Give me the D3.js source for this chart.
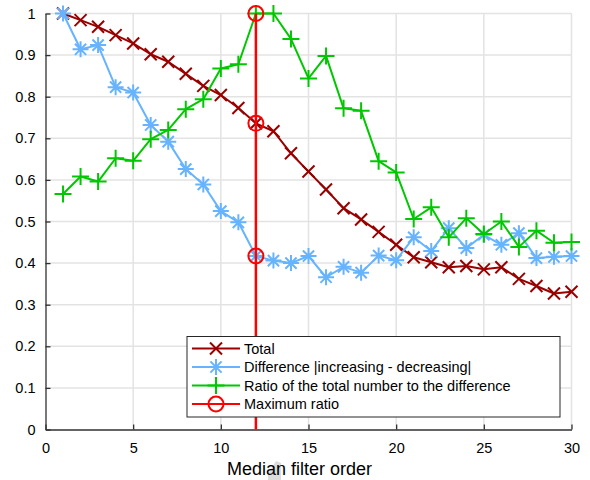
<!DOCTYPE html>
<html>
<head>
<meta charset="utf-8">
<script src="https://cdn.jsdelivr.net/npm/d3@7"></script>
<style>
  html, body { margin: 0; padding: 0; background: #ffffff; }
  svg { display: block; font-family: "Liberation Sans", Arial, sans-serif; }
</style>
</head>
<body>
<svg id="chart" width="590" height="480"></svg>
<script>
// ---- data ----
const orders = d3.range(1, 31);
const total = [1.0, 0.984, 0.968, 0.948, 0.928, 0.902, 0.884, 0.855, 0.826, 0.804,
               0.773, 0.736, 0.717, 0.664, 0.620, 0.577, 0.532, 0.505, 0.475, 0.444,
               0.414, 0.402, 0.390, 0.393, 0.385, 0.390, 0.362, 0.345, 0.327, 0.331];
const difference = [1.0, 0.914, 0.924, 0.823, 0.810, 0.732, 0.692, 0.626, 0.589, 0.525,
                    0.498, 0.417, 0.406, 0.400, 0.417, 0.366, 0.391, 0.377, 0.418, 0.407,
                    0.462, 0.429, 0.484, 0.436, 0.468, 0.444, 0.472, 0.412, 0.415, 0.417];
const ratio = [0.566, 0.608, 0.596, 0.652, 0.646, 0.698, 0.720, 0.770, 0.794, 0.868,
               0.878, 1.0, 1.0, 0.939, 0.844, 0.898, 0.772, 0.766, 0.645, 0.618,
               0.506, 0.534, 0.462, 0.508, 0.470, 0.500, 0.439, 0.478, 0.449, 0.451];
const maxOrder = 12;
const maxPoints = [1.0, 0.736, 0.417];
const xTicks = [0, 5, 10, 15, 20, 25, 30];
const yTicks = [0, 0.1, 0.2, 0.3, 0.4, 0.5, 0.6, 0.7, 0.8, 0.9, 1];
const legendLabels = ["Total", "Difference |increasing - decreasing|",
                      "Ratio of the total number to the difference", "Maximum ratio"];
const xLabel = "Median filter order";

// ---- layout ----
const svg = d3.select("#chart");
const x = d3.scaleLinear().domain([0, 30]).range([45.5, 571.5]);
const y = d3.scaleLinear().domain([0, 1]).range([429.5, 13.5]);

const cTotal = "#990000", cDiff = "#66b3ff", cRatio = "#00c800", cMax = "#ff0000";
const axisColor = "#303030", gridColor = "#e3e3e3";

// grid
const g = svg.append("g");
g.selectAll(".gx").data(xTicks.filter(d => d > 0)).enter().append("line")
  .attr("x1", d => x(d)).attr("x2", d => x(d)).attr("y1", y(0)).attr("y2", y(1))
  .attr("stroke", gridColor).attr("stroke-width", 1.5);
g.selectAll(".gy").data(yTicks.filter(d => d > 0)).enter().append("line")
  .attr("x1", x(0)).attr("x2", x(30)).attr("y1", d => y(d)).attr("y2", d => y(d))
  .attr("stroke", gridColor).attr("stroke-width", 1.5);

// axes
const xAxis = d3.axisBottom(x).tickValues(xTicks).tickSize(-5).tickPadding(13).tickSizeOuter(0)
  .tickFormat(d3.format("d"));
const yAxis = d3.axisLeft(y).tickValues(yTicks).tickSize(-5).tickPadding(10).tickSizeOuter(0)
  .tickFormat(d => d === 0 || d === 1 ? String(d) : d3.format(".1f")(d));
const gx = svg.append("g").attr("transform", `translate(0,${y(0)})`).call(xAxis);
const gy = svg.append("g").attr("transform", `translate(${x(0)},0)`).call(yAxis);
[gx, gy].forEach(a => {
  a.select(".domain").attr("stroke", axisColor).attr("stroke-width", 1.3);
  a.selectAll(".tick line").attr("stroke", axisColor).attr("stroke-width", 1.3);
  a.selectAll(".tick text").attr("fill", "#000").style("font-size", "14.5px")
    .style("font-family", "Liberation Sans, Arial, sans-serif");
});

// cursor artifact (drawn beneath the label)
svg.append("path").attr("d", "M276,461 L268,474 L268,480 L281,480 L281,463 Z")
  .attr("fill", "#dcdcdc");

// x label
svg.append("text").attr("x", 227).attr("y", 475).attr("text-anchor", "start")
  .style("font-size", "18px").attr("fill", "#000").text(xLabel);

// markers
function markX(sel, s, color) {
  sel.append("path").attr("d", `M${-s},${-s}L${s},${s}M${-s},${s}L${s},${-s}`)
    .attr("stroke", color).attr("stroke-width", 2).attr("fill", "none");
}
function markStar(sel, s, color) {
  const d = `M${-s},0L${s},0M0,${-s}L0,${s}` +
    `M${-s*0.7},${-s*0.7}L${s*0.7},${s*0.7}M${-s*0.7},${s*0.7}L${s*0.7},${-s*0.7}`;
  sel.append("path").attr("d", d).attr("stroke", color).attr("stroke-width", 2).attr("fill", "none");
}
function markPlus(sel, s, color) {
  sel.append("path").attr("d", `M${-s},0L${s},0M0,${-s}L0,${s}`)
    .attr("stroke", color).attr("stroke-width", 2).attr("fill", "none");
}
function markCircle(sel, r, color) {
  sel.append("circle").attr("r", r).attr("stroke", color).attr("stroke-width", 2).attr("fill", "none");
}

const line = d3.line().x((d, i) => x(orders[i])).y(d => y(d));
const series = [
  { values: total, color: cTotal, mark: (s) => markX(s, 6, cTotal) },
  { values: difference, color: cDiff, mark: (s) => markStar(s, 8, cDiff) },
  { values: ratio, color: cRatio, mark: (s) => markPlus(s, 8.5, cRatio) }
];
series.forEach(sr => {
  svg.append("path").datum(sr.values).attr("d", line)
    .attr("fill", "none").attr("stroke", sr.color).attr("stroke-width", 2).attr("stroke-linejoin", "round");
  sr.values.forEach((v, i) => {
    const m = svg.append("g").attr("transform", `translate(${x(orders[i])},${y(v)})`);
    sr.mark(m);
  });
});

// maximum ratio line and circles
svg.append("line").attr("x1", x(maxOrder)).attr("x2", x(maxOrder)).attr("y1", y(0)).attr("y2", y(1))
  .attr("stroke", cMax).attr("stroke-width", 2.5);
maxPoints.forEach(v => {
  const m = svg.append("g").attr("transform", `translate(${x(maxOrder)},${y(v)})`);
  markCircle(m, 7.5, cMax);
});

// legend
const lg = svg.append("g");
lg.append("rect").attr("x", 187).attr("y", 336.5).attr("width", 373).attr("height", 80.5)
  .attr("fill", "#fff").attr("stroke", "#262626").attr("stroke-width", 1);
const legendMarks = [
  (s) => markX(s, 6, cTotal),
  (s) => markStar(s, 8, cDiff),
  (s) => markPlus(s, 8.5, cRatio),
  (s) => markCircle(s, 7.5, cMax)
];
const legendColors = [cTotal, cDiff, cRatio, cMax];
const rowY = [348.5, 367, 385.5, 404];
legendLabels.forEach((lab, i) => {
  lg.append("line").attr("x1", 192).attr("x2", 240).attr("y1", rowY[i]).attr("y2", rowY[i])
    .attr("stroke", legendColors[i]).attr("stroke-width", 2);
  const m = lg.append("g").attr("transform", `translate(216,${rowY[i]})`);
  legendMarks[i](m);
  lg.append("text").attr("x", 244).attr("y", rowY[i] + 5).style("font-size", "14.5px")
    .attr("fill", "#000").text(lab);
});
</script>
</body>
</html>
